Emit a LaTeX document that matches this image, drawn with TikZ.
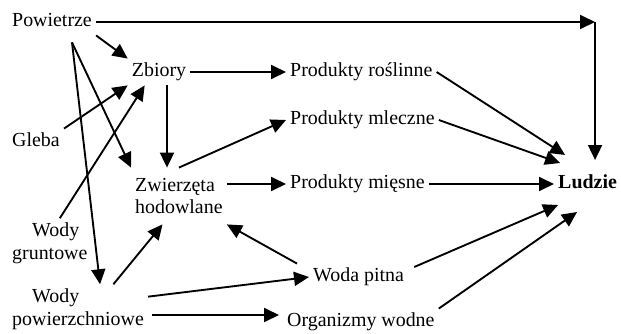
\documentclass[tikz,border=0pt]{standalone}
\usepackage{fontspec}
\setmainfont{Liberation Serif}
\usetikzlibrary{arrows.meta, calc, positioning}

\begin{document}
\begin{tikzpicture}[x=0.03cm, y=-0.03cm,
    >={Triangle[length=0.45cm, width=0.42cm]},
    lbl/.style={inner sep=0.12cm, text height=12pt, text depth=3.7pt, font=\fontsize{17}{19.6}\selectfont},
    lbltwo/.style={inner sep=0.12cm, align=left, font=\fontsize{17}{19.6}\selectfont},
    arr/.style={->, line width=1.6pt}]
    \useasboundingbox (0,0) rectangle (621,333);

    % Sources
    \node[lbl] (pow) at (52,22) {Powietrze};
    \node[lbl, anchor=west] (gl) at (8,142) {Gleba};
    \node[lbltwo, anchor=west] (wg) at (8,243) {\hspace*{1em}Wody\\gruntowe};
    \node[lbltwo, anchor=west] (wp) at (8,309) {\hspace*{1em}Wody\\powierzchniowe};

    % Middle
    \node[lbl] (zb) at (159,72) {Zbiory};
    \node[lbltwo, anchor=west, inner ysep=0.3cm] (zw) at (131,196) {Zwierzęta\\hodowlane};
    \node[lbl, anchor=west] (prr) at (286,72) {Produkty roślinne};
    \node[lbl, anchor=west] (prm) at (286,120) {Produkty mleczne};
    \node[lbl, anchor=west] (pmi) at (286,184) {Produkty mięsne};
    \node[lbl, anchor=west] (wpi) at (309,277) {Woda pitna};
    \node[lbl, anchor=west] (org) at (283,322) {Organizmy wodne};
    \node[lbl, anchor=west] (lud) at (554,184) {\textbf{Ludzie}};

    \coordinate (pw) at ($(pow.south)+(20,7)$);
    \coordinate (rog) at (595,22);
    \coordinate (zbs) at ($(zb.south)+(8,0)$);

    % Air
    \draw[arr] (pow.east) -- (rog);
    \draw[arr] (rog) -- ($(lud)+(7.5,-24)$);
    \draw[arr] (pow.south east) -- (zb.north west);
    \draw[arr] (pw) -- (zw.north west);
    \draw[arr] (pw) -- ($(wp.north)+(22,0)$);

    % Soil and water
    \draw[arr] (gl.north east) -- (zb.south west);
    \draw[arr] ($(wg.north)+(10,0)$) -- ($(zb.south west)+(17,0)$);
    \draw[arr] (wp.35) -- (zw.-120);
    \draw[arr] (wp.10) -- (wpi.west);
    \draw[arr] ($(wp.east)+(4,6)$) -- ($(org.west)+(-4,-7)$);
    \draw[arr] ($(wpi.north west)+(-12,0)$) -- (zw.south east);

    % Crops and animals
    \draw[arr] (zbs) -- (zbs |- zw.north);
    \draw[arr] (zb.east) -- (prr.west);
    \draw[arr] (zw.north) -- (prm.west);
    \draw[arr] (pmi.west -| zw.east) -- (pmi.west);

    % To people
    \draw[arr] (prr.east) -- ($(lud)+(-22.5,-29)$);
    \draw[arr] (prm.east) -- ($(lud)+(-27.5,-21)$);
    \draw[arr] (pmi.east) -- (lud.west);
    \draw[arr] ($(wpi.east)+(6,-10)$) -- ($(lud)+(-29.5,21)$);
    \draw[arr] (org.north east) -- ($(lud)+(-10.5,28)$);
\end{tikzpicture}
\end{document}
